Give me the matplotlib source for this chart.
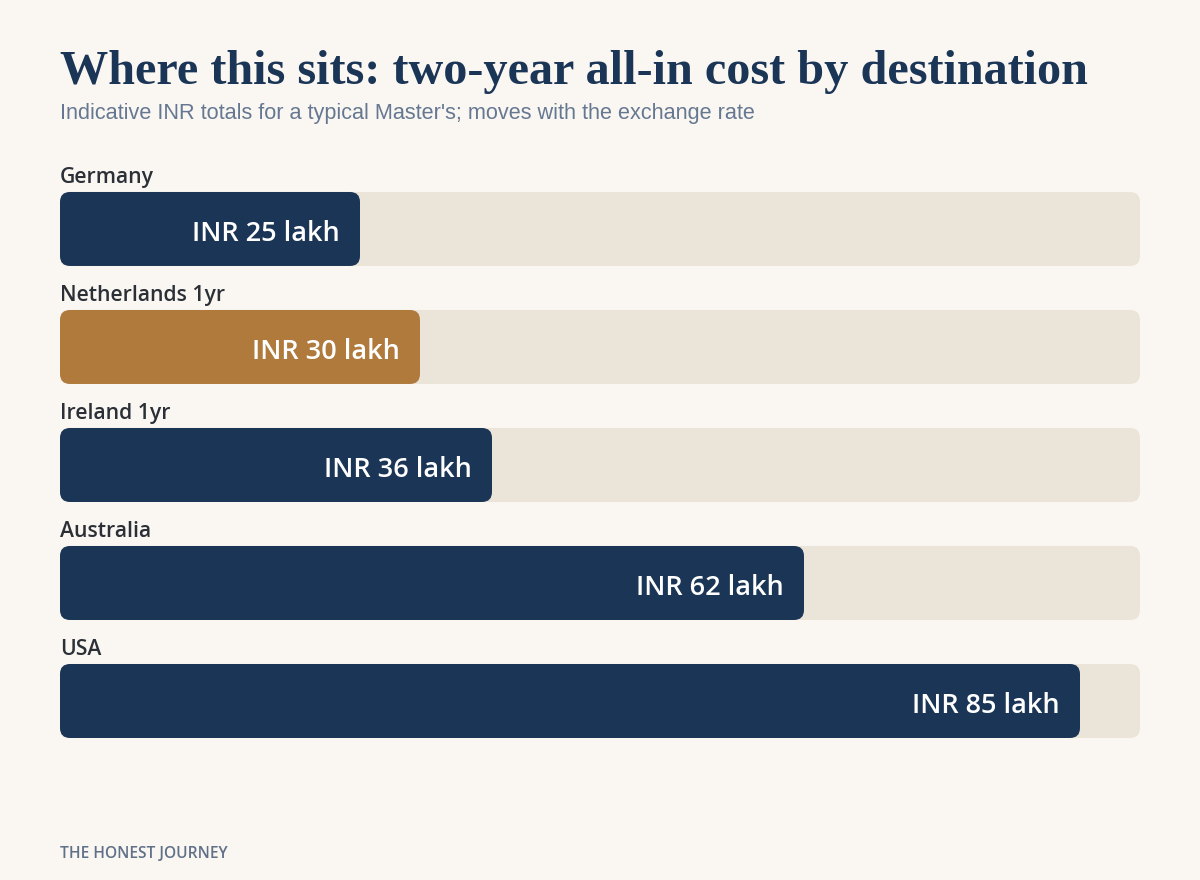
import matplotlib
matplotlib.use("Agg")
import matplotlib.pyplot as plt
from matplotlib.patches import FancyBboxPatch

# data
countries = ["Germany", "Netherlands 1yr", "Ireland 1yr", "Australia", "USA"]
costs = [25, 30, 36, 62, 85]
value_labels = ["INR 25 lakh", "INR 30 lakh", "INR 36 lakh", "INR 62 lakh", "INR 85 lakh"]
highlight = "Netherlands 1yr"
scale_max = 90

bg = "#FAF7F2"
navy = "#1B3556"
gold = "#B07A3C"
track = "#EBE4D8"

fig = plt.figure(figsize=(12, 8.8), dpi=100, facecolor=bg)

# axes laid over the bar track area (px 60..1140 wide, 140..760 tall)
ax = fig.add_axes([60 / 1200, 120 / 880, 1080 / 1200, 620 / 880])
ax.set_facecolor(bg)
ax.set_xlim(0, scale_max)
ax.set_ylim(4.5, -0.754)
ax.axis("off")

px_x = scale_max / 1080      # data units per pixel in x
px_y = 5.254 / 620           # data units per pixel in y
bar_h = 74 * px_y
rad = 10 * px_x
aspect = px_y / px_x

for i, (name, val, lab) in enumerate(zip(countries, costs, value_labels)):
    # background track
    ax.add_patch(FancyBboxPatch((0, i - bar_h / 2), scale_max, bar_h,
                                boxstyle=f"round,pad=0,rounding_size={rad}",
                                mutation_aspect=aspect, fc=track, ec="none"))
    color = gold if name == highlight else navy
    ax.add_patch(FancyBboxPatch((0, i - bar_h / 2), val, bar_h,
                                boxstyle=f"round,pad=0,rounding_size={rad}",
                                mutation_aspect=aspect, fc=color, ec="none"))
    ax.text(val - 20 * px_x, i + 5 * px_y, lab, ha="right", va="center",
            color="white", fontsize=19.5, fontfamily="Open Sans", fontweight="semibold")
    ax.text(0, i - 51 * px_y, name, ha="left", va="center",
            color="#2B2F36", fontsize=15.2, fontfamily="Open Sans", fontweight="semibold")

title = fig.text(60 / 1200, 1 - 72 / 880, "Where this sits: two-year all-in cost by destination",
                 ha="left", va="center", color=navy, fontsize=32, fontfamily="Liberation Serif",
                 fontweight="bold")
# fit title to the reference width (~1030 px)
r = fig.canvas.get_renderer()
w = title.get_window_extent(r).width
title.set_fontsize(32 * 1030 / w)

fig.text(60 / 1200, 1 - 114 / 880,
         "Indicative INR totals for a typical Master's; moves with the exchange rate",
         ha="left", va="center", color="#667891", fontsize=15.6, fontfamily="Liberation Sans")
fig.text(60 / 1200, 1 - 854 / 880, "THE HONEST JOURNEY", ha="left", va="center",
         color="#5F7088", fontsize=11.2, fontfamily="Open Sans", fontweight="semibold")

fig.savefig("out.png", dpi=100, facecolor=bg)
